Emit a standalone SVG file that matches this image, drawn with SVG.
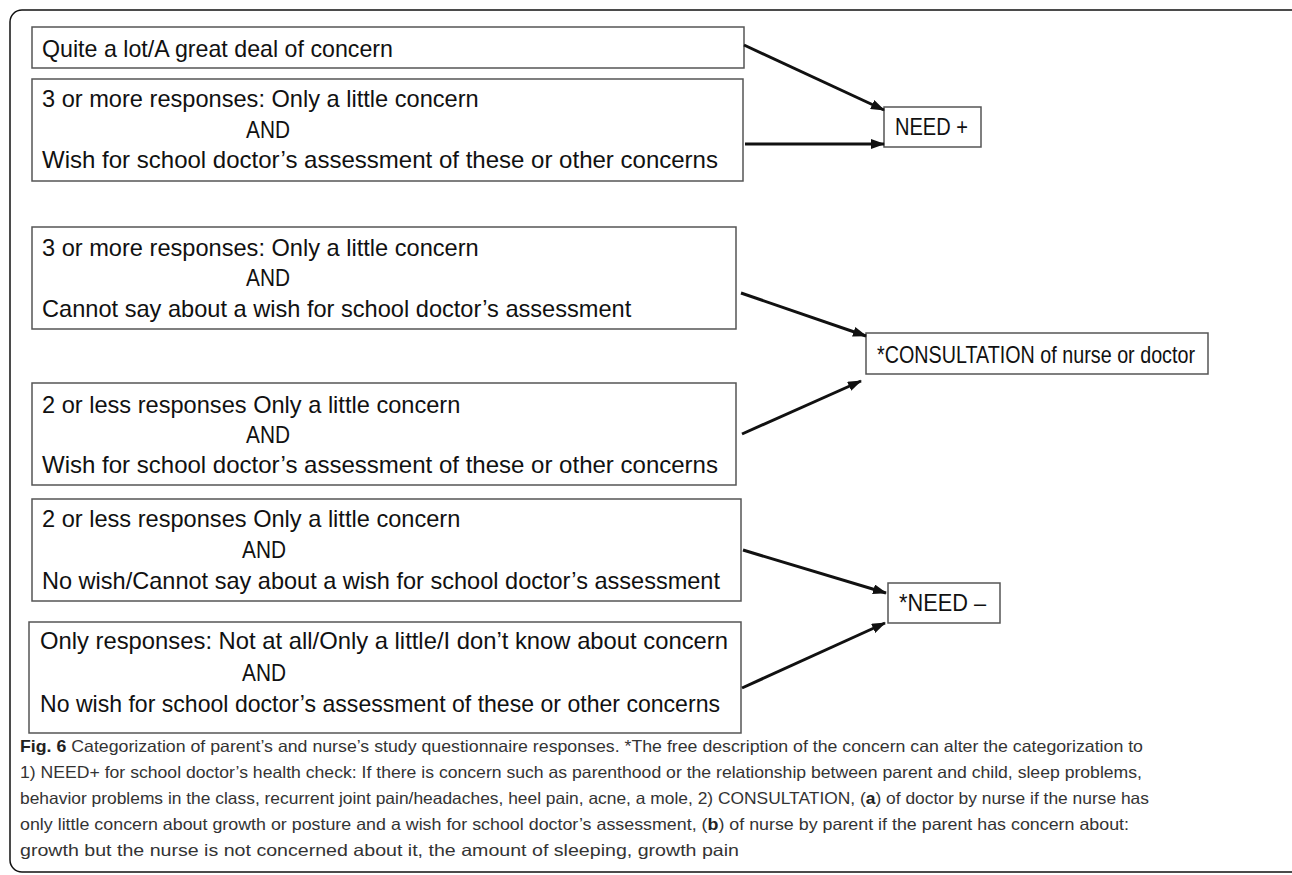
<svg xmlns="http://www.w3.org/2000/svg" width="1292" height="875" viewBox="0 0 1292 875">
<style>
.bx{fill:#fff;stroke:#555;stroke-width:1.5}
.t{font-family:"Liberation Sans",Arial,sans-serif;font-size:23.6px;fill:#111}
.cap{font-family:"Liberation Sans",Arial,sans-serif;font-size:16.5px;fill:#333}
.cn{stroke:#111;stroke-width:3;fill:none}
</style>
<defs>
<marker id="ah" markerUnits="userSpaceOnUse" markerWidth="14" markerHeight="10" refX="13" refY="5" orient="auto">
<path d="M0,0 L14,5 L0,10 Z" fill="#111"/>
</marker>
</defs>
<rect width="1292" height="875" fill="#fff"/>
<rect x="10" y="10" width="1300" height="862" rx="12" fill="none" stroke="#111" stroke-width="1.5"/>
<g id="box1"><rect class="bx" x="32" y="27" width="712" height="41"/><text class="t" x="42" y="57" textLength="351" lengthAdjust="spacingAndGlyphs">Quite a lot/A great deal of concern</text></g>
<g id="box2"><rect class="bx" x="32" y="79" width="711" height="102"/>
<text class="t" x="42" y="107">3 or more responses: Only a little concern</text>
<text class="t" x="246" y="138" textLength="44" lengthAdjust="spacingAndGlyphs">AND</text>
<text class="t" x="42" y="168" textLength="676" lengthAdjust="spacingAndGlyphs">Wish for school doctor’s assessment of these or other concerns</text></g>
<g id="box3"><rect class="bx" x="32" y="227" width="704" height="102"/>
<text class="t" x="42" y="256">3 or more responses: Only a little concern</text>
<text class="t" x="246" y="286" textLength="44" lengthAdjust="spacingAndGlyphs">AND</text>
<text class="t" x="42" y="317">Cannot say about a wish for school doctor’s assessment</text></g>
<g id="box4"><rect class="bx" x="32" y="383" width="704" height="102"/>
<text class="t" x="42" y="413">2 or less responses Only a little concern</text>
<text class="t" x="246" y="443" textLength="44" lengthAdjust="spacingAndGlyphs">AND</text>
<text class="t" x="42" y="473" textLength="676" lengthAdjust="spacingAndGlyphs">Wish for school doctor’s assessment of these or other concerns</text></g>
<g id="box5"><rect class="bx" x="32" y="499" width="709" height="102"/>
<text class="t" x="42" y="527">2 or less responses Only a little concern</text>
<text class="t" x="242" y="558" textLength="44" lengthAdjust="spacingAndGlyphs">AND</text>
<text class="t" x="42" y="589" textLength="678" lengthAdjust="spacingAndGlyphs">No wish/Cannot say about a wish for school doctor’s assessment</text></g>
<g id="box6"><rect class="bx" x="29" y="622" width="712" height="111"/>
<text class="t" x="40" y="649" textLength="688" lengthAdjust="spacingAndGlyphs">Only responses: Not at all/Only a little/I don’t know about concern</text>
<text class="t" x="242" y="681" textLength="44" lengthAdjust="spacingAndGlyphs">AND</text>
<text class="t" x="40" y="712" textLength="680" lengthAdjust="spacingAndGlyphs">No wish for school doctor’s assessment of these or other concerns</text></g>
<g id="needplus"><rect class="bx" x="884" y="107" width="97" height="40"/><text class="t" x="895" y="135" textLength="73" lengthAdjust="spacingAndGlyphs">NEED +</text></g>
<g id="consultation"><rect class="bx" x="866" y="333" width="342" height="41"/><text class="t" x="877" y="363" textLength="318" lengthAdjust="spacingAndGlyphs">*CONSULTATION of nurse or doctor</text></g>
<g id="needminus"><rect class="bx" x="888" y="583" width="112" height="40"/><text class="t" x="899" y="611" textLength="87" lengthAdjust="spacingAndGlyphs">*NEED –</text></g>
<g id="connectors">
<line class="cn" x1="744" y1="45" x2="884" y2="110" marker-end="url(#ah)"/>
<line class="cn" x1="745" y1="144" x2="884" y2="144" marker-end="url(#ah)"/>
<line class="cn" x1="741" y1="293" x2="866" y2="336" marker-end="url(#ah)"/>
<line class="cn" x1="742" y1="434" x2="861" y2="381" marker-end="url(#ah)"/>
<line class="cn" x1="743" y1="550" x2="886" y2="593" marker-end="url(#ah)"/>
<line class="cn" x1="742" y1="688" x2="885" y2="623" marker-end="url(#ah)"/>
</g>
<g id="caption">
<text class="cap" x="20" y="752" textLength="1123" lengthAdjust="spacingAndGlyphs"><tspan font-weight="bold" fill="#222">Fig. 6</tspan> Categorization of parent’s and nurse’s study questionnaire responses. *The free description of the concern can alter the categorization to</text>
<text class="cap" x="20" y="778" textLength="1122" lengthAdjust="spacingAndGlyphs">1) NEED+ for school doctor’s health check: If there is concern such as parenthood or the relationship between parent and child, sleep problems,</text>
<text class="cap" x="20" y="804" textLength="1129" lengthAdjust="spacingAndGlyphs">behavior problems in the class, recurrent joint pain/headaches, heel pain, acne, a mole, 2) CONSULTATION, (<tspan font-weight="bold" fill="#222">a</tspan>) of doctor by nurse if the nurse has</text>
<text class="cap" x="20" y="830" textLength="1109" lengthAdjust="spacingAndGlyphs">only little concern about growth or posture and a wish for school doctor’s assessment, (<tspan font-weight="bold" fill="#222">b</tspan>) of nurse by parent if the parent has concern about:</text>
<text class="cap" x="20" y="856" textLength="719" lengthAdjust="spacingAndGlyphs">growth but the nurse is not concerned about it, the amount of sleeping, growth pain</text>
</g>
</svg>
